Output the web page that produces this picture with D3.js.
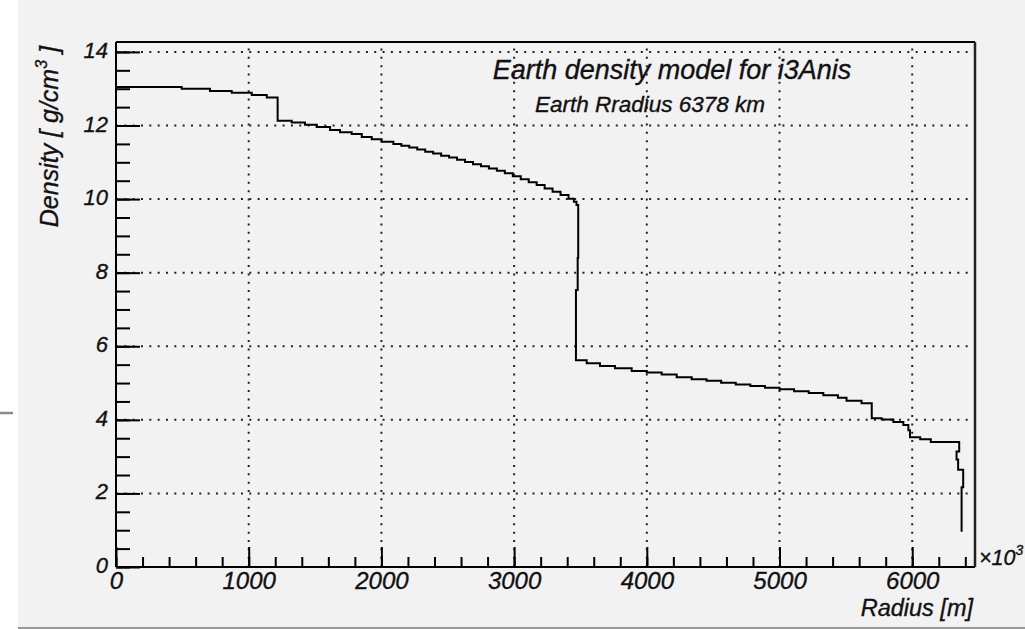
<!DOCTYPE html>
<html>
<head>
<meta charset="utf-8">
<script src="https://cdn.jsdelivr.net/npm/d3@7"></script>
<style>
  html, body { margin: 0; padding: 0; background: #ffffff; }
  svg { display: block; }
  text { font-family: "Liberation Sans", Arial, Helvetica, sans-serif; font-style: italic; fill: #111; stroke: #111; stroke-width: 0.35px; }
</style>
</head>
<body>
<svg id="chart" width="1025" height="629"></svg>
<script>
// Earth density profile: path vertices (radius in km, density in g/cm^3),
// drawn as a staircase (horizontal at each density, then vertical to the next)
const radiusKm = [
  0, 495, 708, 872, 1023, 1136, 1218, 1324, 1424, 1512, 1613, 1688, 1776, 1852,
  1927, 2002, 2090, 2150, 2210, 2270, 2330, 2390, 2450, 2510, 2570, 2630, 2690,
  2750, 2810, 2870, 2930, 2990, 3050, 3110, 3170, 3230, 3290, 3350, 3410, 3450,
  3470, 3483, 3479, 3466, 3547, 3647, 3760, 3886,
  4000, 4112, 4225, 4338, 4450, 4560, 4670, 4780, 4890, 5000, 5110, 5220, 5330,
  5440, 5505, 5618, 5695, 5770, 5858, 5933, 5971, 5983, 6060, 6140, 6354, 6334,
  6346, 6384, 6372
];
const density = [
  13.05, 13.00, 12.94, 12.89, 12.83, 12.76, 12.13, 12.08, 12.02, 11.96, 11.88, 11.82, 11.77, 11.69,
  11.63, 11.56, 11.50, 11.45, 11.40, 11.35, 11.29, 11.24, 11.18, 11.13, 11.07, 11.01, 10.95,
  10.89, 10.83, 10.77, 10.70, 10.62, 10.54, 10.46, 10.38, 10.29, 10.20, 10.11, 10.01, 9.93,
  9.84, 8.40, 7.53, 5.62, 5.54, 5.46, 5.40, 5.33,
  5.29, 5.23, 5.16, 5.10, 5.06, 5.01, 4.96, 4.92, 4.87, 4.83, 4.78, 4.73, 4.67,
  4.60, 4.52, 4.45, 4.04, 4.01, 3.94, 3.86, 3.72, 3.53, 3.47, 3.40, 3.14, 2.92,
  2.64, 2.17, 0.96
];

// Axis ticks and labels
const xMajorTicks = [0, 1000, 2000, 3000, 4000, 5000, 6000];
const xMinorTicks = d3.range(0, 6401, 200);
const yMajorTicks = [0, 2, 4, 6, 8, 10, 12, 14];
const yMinorTicks = d3.range(0, 14.01, 0.5);
const xExponent = "3";

const titleText = "Earth density model for i3Anis";
const subtitleText = "Earth Rradius 6378 km";
const xTitle = "Radius [m]";

const svg = d3.select("#chart");

// canvas: light grey pad with a white strip on the left
svg.append("rect").attr("x", 0).attr("y", 0).attr("width", 1025).attr("height", 629).attr("fill", "#ffffff");
svg.append("rect").attr("x", 18).attr("y", 0).attr("width", 1007).attr("height", 629).attr("fill", "#f2f2f2");
svg.append("line").attr("x1", 18).attr("x2", 1025).attr("y1", 628).attr("y2", 628)
  .attr("stroke", "#9a9a9a").attr("stroke-width", 2);
svg.append("line").attr("x1", 0).attr("x2", 13).attr("y1", 413).attr("y2", 413)
  .attr("stroke", "#8a8a8a").attr("stroke-width", 2.5);

const frameL = 116, frameR = 975, frameT = 42, frameB = 567;
const x = d3.scaleLinear().domain([0, 6473]).range([frameL, frameR]);
const y = d3.scaleLinear().domain([0, 14.27]).range([frameB, frameT]);

// dotted grid
const grid = svg.append("g").attr("stroke", "#222").attr("stroke-width", 2)
  .attr("stroke-dasharray", "2 6.33");
grid.selectAll("line.v").data(xMajorTicks.filter(d => d > 0)).join("line")
  .attr("x1", d => x(d)).attr("x2", d => x(d)).attr("y1", frameB).attr("y2", frameT);
grid.selectAll("line.h").data(yMajorTicks.filter(d => d > 0)).join("line")
  .attr("y1", d => y(d)).attr("y2", d => y(d)).attr("x1", frameL).attr("x2", frameR);

// frame
svg.append("line").attr("x1", frameL).attr("x2", frameR).attr("y1", frameT).attr("y2", frameT)
  .attr("stroke", "#000").attr("stroke-width", 2);
svg.append("line").attr("x1", frameR).attr("x2", frameR).attr("y1", frameT).attr("y2", frameB)
  .attr("stroke", "#222").attr("stroke-width", 2.5);

// x axis (ticks pointing into the plot)
const xAxisG = svg.append("g").attr("transform", `translate(0,${frameB})`);
xAxisG.append("g").call(d3.axisBottom(x).tickValues(xMinorTicks).tickSize(-10).tickSizeOuter(0).tickFormat(""));
xAxisG.append("g").call(d3.axisBottom(x).tickValues(xMajorTicks).tickSize(-20).tickSizeOuter(0).tickPadding(5)
  .tickFormat(d3.format("d")));
xAxisG.selectAll(".domain").remove();
xAxisG.selectAll("line").attr("stroke", "#000").attr("stroke-width", 2);
xAxisG.selectAll("text").attr("font-size", 24).attr("fill", "#111")
  .attr("font-family", "Liberation Sans, Arial, sans-serif").attr("font-style", "italic");

// y axis
const yAxisG = svg.append("g").attr("transform", `translate(${frameL},0)`);
yAxisG.append("g").call(d3.axisLeft(y).tickValues(yMinorTicks).tickSize(-14).tickSizeOuter(0).tickFormat(""));
yAxisG.append("g").call(d3.axisLeft(y).tickValues(yMajorTicks).tickSize(-24).tickSizeOuter(0).tickPadding(8)
  .tickFormat(d3.format("d")));
yAxisG.selectAll(".domain").remove();
yAxisG.selectAll("line").attr("stroke", "#000").attr("stroke-width", 2);
yAxisG.selectAll("text").attr("font-size", 22).attr("dy", "0.25em").attr("fill", "#111")
  .attr("font-family", "Liberation Sans, Arial, sans-serif").attr("font-style", "italic");

// axis lines
svg.append("line").attr("x1", frameL).attr("x2", frameR).attr("y1", frameB).attr("y2", frameB)
  .attr("stroke", "#000").attr("stroke-width", 2);
svg.append("line").attr("x1", frameL).attr("x2", frameL).attr("y1", frameT).attr("y2", frameB)
  .attr("stroke", "#000").attr("stroke-width", 2);

// density curve
const pts = radiusKm.map((r, i) => [r, density[i]]);
const line = d3.line().x(d => x(d[0])).y(d => y(d[1])).curve(d3.curveStepAfter);
svg.append("path").datum(pts).attr("d", line)
  .attr("fill", "none").attr("stroke", "#000").attr("stroke-width", 2);

// titles
svg.append("text").attr("x", 672).attr("y", 79).attr("text-anchor", "middle")
  .attr("font-size", 27).text(titleText);
svg.append("text").attr("x", 650).attr("y", 112).attr("text-anchor", "middle")
  .attr("font-size", 22.5).text(subtitleText);

// axis titles
svg.append("text").attr("x", 973).attr("y", 616).attr("text-anchor", "end")
  .attr("font-size", 23.5).text(xTitle);
const yTitle = svg.append("text").attr("transform", "translate(58,46) rotate(-90)")
  .attr("text-anchor", "end").attr("font-size", 25);
yTitle.append("tspan").text("Density [ g/cm");
yTitle.append("tspan").attr("font-size", 16).attr("dy", -11).text("3");
yTitle.append("tspan").attr("dy", 11).text(" ]");

// axis multiplier
const mult = svg.append("text").attr("x", 979).attr("y", 565).attr("font-size", 21.5);
mult.append("tspan").text("\u00d710");
mult.append("tspan").attr("font-size", 14).attr("dy", -10).text(xExponent);
</script>
</body>
</html>
